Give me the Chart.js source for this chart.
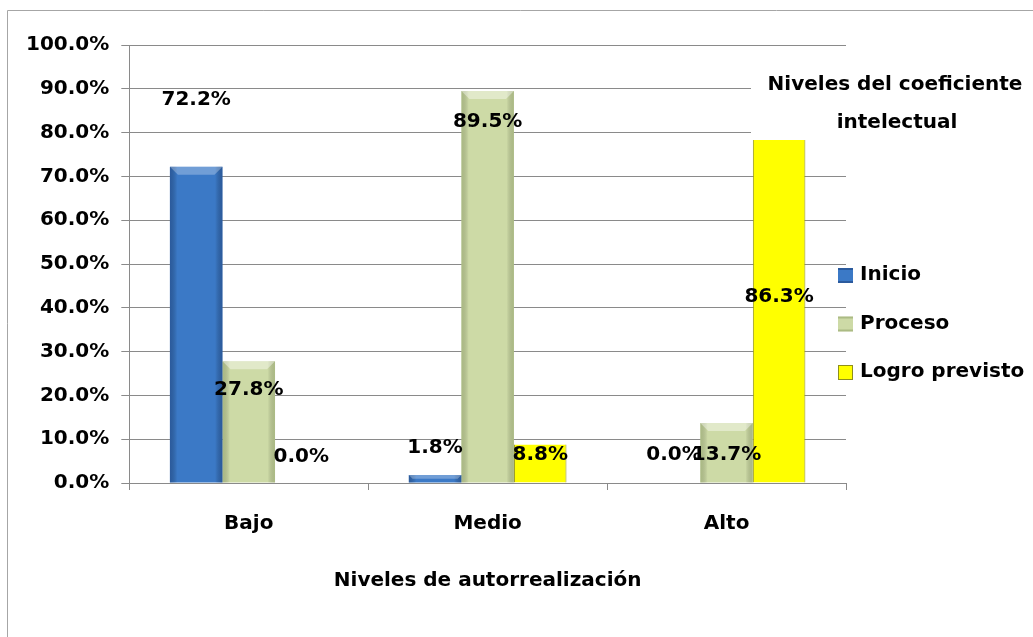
<!DOCTYPE html>
<html><head><meta charset="utf-8">
<script src="https://cdn.jsdelivr.net/npm/chart.js@4.4.1/dist/chart.umd.min.js"></script>
<style>html,body{margin:0;padding:0;background:#fff;overflow:hidden}#wrap{width:1033px;height:637px;position:relative}</style>
</head><body><div id="wrap"><canvas id="c"></canvas></div>
<script>
const categories = ['Bajo', 'Medio', 'Alto'];
const seriesNames = ['Inicio', 'Proceso', 'Logro previsto'];
const inicio = [72.2, 1.8, 0.0];
const proceso = [27.8, 89.5, 13.7];
const logro = [0.0, 8.8, 86.3];
const yTickLabels = ['0.0%', '10.0%', '20.0%', '30.0%', '40.0%', '50.0%', '60.0%', '70.0%', '80.0%', '90.0%', '100.0%'];
const xTitle = 'Niveles de autorrealización';
const legendTitle = ['Niveles del coeficiente', 'intelectual'];
// value-axis level at which each data label sits in the original
const labelLevelInicio = [87.4, 8.0, 6.4];
const labelLevelProceso = [21.2, 82.4, 6.4];
const labelLevelLogro = [5.9, 6.4, 42.5];

const FONT = 'DejaVu Sans';
Chart.defaults.font.family = FONT;
Chart.defaults.color = '#000';
const GRID = '#8a8a8a';

const shades = [
  {edge: 'rgba(20,45,95,0.40)', bevel: 'rgba(255,255,255,0.28)'},
  {edge: 'rgba(110,130,70,0.35)', bevel: 'rgba(255,255,255,0.40)'},
  null
];

const shadePlugin = {
  id: 'shade',
  afterDatasetsDraw(chart) {
    const ctx = chart.ctx, a = chart.chartArea;
    ctx.save();
    ctx.beginPath(); ctx.rect(a.left, a.top, a.right - a.left, a.bottom - a.top); ctx.clip();
    chart.data.datasets.forEach((ds, i) => {
      const s = shades[i]; if (!s) return;
      chart.getDatasetMeta(i).data.forEach(el => {
        const p = el.getProps(['x', 'y', 'base', 'width'], true);
        const l = p.x - p.width / 2, r = p.x + p.width / 2, t = Math.min(p.y, p.base), b = Math.max(p.y, p.base);
        if (b - t < 1) return;
        const g = ctx.createLinearGradient(l, 0, r, 0);
        g.addColorStop(0, s.edge); g.addColorStop(0.14, 'rgba(0,0,0,0)');
        g.addColorStop(0.86, 'rgba(0,0,0,0)'); g.addColorStop(1, s.edge);
        ctx.fillStyle = g; ctx.fillRect(l, t, r - l, b - t);
        const bv = Math.min(8, (b - t) / 2);
        ctx.fillStyle = s.bevel;
        ctx.beginPath(); ctx.moveTo(l, t); ctx.lineTo(r, t); ctx.lineTo(r - bv, t + bv); ctx.lineTo(l + bv, t + bv); ctx.closePath(); ctx.fill();
      });
    });
    ctx.restore();
  }
};

const labelLevels = [labelLevelInicio, labelLevelProceso, labelLevelLogro];
const labelPlugin = {
  id: 'vals',
  afterDatasetsDraw(chart) {
    const ctx = chart.ctx, ys = chart.scales.y;
    ctx.save();
    ctx.font = 'bold 20px "' + FONT + '"';
    ctx.fillStyle = '#000'; ctx.textAlign = 'center'; ctx.textBaseline = 'middle';
    chart.data.datasets.forEach((ds, i) => {
      chart.getDatasetMeta(i).data.forEach((el, j) => {
        ctx.fillText(ds.data[j].toFixed(1) + '%', el.x, ys.getPixelForValue(labelLevels[i][j]));
      });
    });
    ctx.restore();
  }
};

const decoPlugin = {
  id: 'deco',
  beforeDraw(chart) {
    const ctx = chart.ctx;
    ctx.save();
    ctx.fillStyle = '#fff'; ctx.fillRect(0, 0, chart.width, chart.height);
    ctx.strokeStyle = '#a6a6a6'; ctx.lineWidth = 1;
    ctx.beginPath(); ctx.moveTo(7.5, chart.height); ctx.lineTo(7.5, 10.5); ctx.lineTo(chart.width, 10.5); ctx.stroke();
    ctx.restore();
  },
  afterDraw(chart) {
    const ctx = chart.ctx, a = chart.chartArea;
    ctx.save();
    // legend title box (covers the plot like in the original)
    ctx.fillStyle = '#fff';
    ctx.fillRect(751, 62, chart.width - 751, 78);
    ctx.fillStyle = '#000'; ctx.textAlign = 'center'; ctx.textBaseline = 'middle';
    ctx.font = 'bold 20px "' + FONT + '"';
    ctx.fillText(legendTitle[0], 895, 85);
    ctx.fillText(legendTitle[1], 897, 123);
    // legend items
    ctx.textAlign = 'left';
    chart.data.datasets.forEach((ds, i) => {
      const cy = 275 + i * 48.5;
      ctx.fillStyle = ds.backgroundColor;
      ctx.fillRect(a.right - 8, cy - 7, 15, 15);
      if (shades[i]) {
        ctx.fillStyle = shades[i].edge; ctx.fillRect(a.right - 8, cy - 7, 15, 2); ctx.fillRect(a.right - 8, cy + 6, 15, 2);
      } else {
        ctx.strokeStyle = ds.borderColor; ctx.lineWidth = 1; ctx.strokeRect(a.right - 7.5, cy - 6.5, 14, 14);
      }
      ctx.fillStyle = '#000';
      ctx.fillText(ds.label, a.right + 14, cy);
    });
    ctx.restore();
  }
};

new Chart(document.getElementById('c'), {
  type: 'bar',
  data: {
    labels: categories,
    datasets: [
      {label: seriesNames[0], data: inicio, backgroundColor: '#3b79c6', borderWidth: 0},
      {label: seriesNames[1], data: proceso, backgroundColor: '#cddaa6', borderWidth: 0},
      {label: seriesNames[2], data: logro, backgroundColor: '#ffff00', borderColor: '#8f8f1c', borderWidth: {left: 1, right: 1, top: 0, bottom: 0}}
    ]
  },
  options: {
    responsive: true, maintainAspectRatio: false, animation: false,
    devicePixelRatio: 1,
    categoryPercentage: 0.66, barPercentage: 1.0,
    layout: {padding: {left: 14, top: 45, right: 187, bottom: 40}},
    plugins: {legend: {display: false}, tooltip: {enabled: false}},
    scales: {
      x: {
        grid: {offset: true, drawOnChartArea: false, drawTicks: true, tickLength: 7, color: GRID},
        border: {display: true, color: GRID},
        ticks: {font: {size: 20, weight: 'bold'}, color: '#000', padding: 22},
        title: {display: true, text: xTitle, font: {size: 20, weight: 'bold'}, color: '#000', padding: {top: 11, bottom: 4}}
      },
      y: {
        min: 0, max: 100,
        ticks: {stepSize: 10, font: {size: 20, weight: 'bold'}, color: '#000', padding: 12,
          callback: (v, i) => yTickLabels[i]},
        grid: {color: GRID, tickLength: 8, drawTicks: true},
        border: {display: true, color: GRID}
      }
    }
  },
  plugins: [decoPlugin, shadePlugin, labelPlugin]
});
</script></body></html>
